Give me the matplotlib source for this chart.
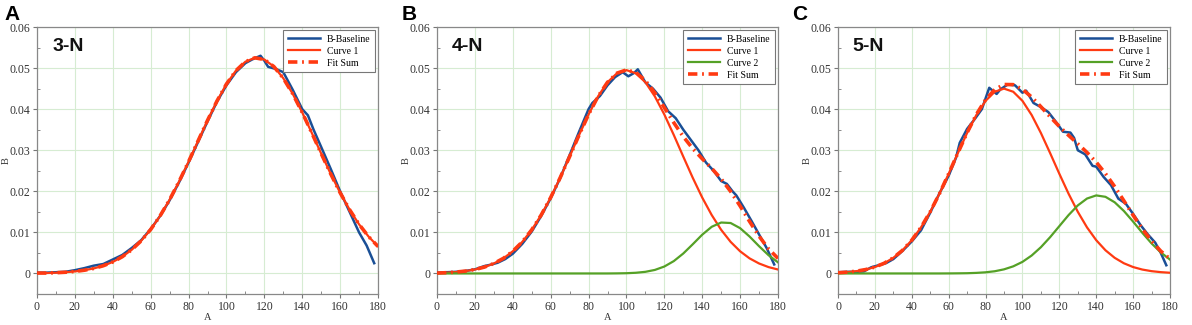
import numpy as np
import matplotlib
matplotlib.use("Agg")
import matplotlib.pyplot as plt
from matplotlib.ticker import MultipleLocator, FuncFormatter

# fitted curves sampled every 5 units of A
fit_x = list(range(0, 181, 5))

# ---- panel A (3-N) ----
a_base_x = [0, 5, 10, 15, 20, 25, 30, 35, 40, 45, 50, 55, 60, 65, 70, 75, 80, 85, 90, 95,
            100, 105, 110, 114, 118, 120, 122, 126, 130, 135, 140, 143, 146, 150, 155,
            160, 165, 170, 174, 178]
a_base_y = [0.0002, 0.0002, 0.0003, 0.0004, 0.0008, 0.0013, 0.0019, 0.0023, 0.0034, 0.0045,
            0.0062, 0.0081, 0.0108, 0.0140, 0.0178, 0.0222, 0.0270, 0.0320, 0.0370, 0.0418,
            0.0458, 0.0490, 0.0512, 0.0522, 0.0530, 0.0518, 0.0503, 0.0498, 0.0490, 0.0447,
            0.0400, 0.0385, 0.0350, 0.0308, 0.0255, 0.0200, 0.0150, 0.0100, 0.0068, 0.0025]
a_curve1 = [0.0001, 0.0001, 0.00018, 0.0003, 0.00049, 0.00079, 0.00123, 0.00188, 0.0028,
            0.00407, 0.00577, 0.00795, 0.0107, 0.01404, 0.01796, 0.02239, 0.02721, 0.03225,
            0.03726, 0.04198, 0.04611, 0.04938, 0.05155, 0.0525, 0.05208, 0.05038, 0.04753,
            0.04372, 0.0392, 0.03427, 0.02921, 0.02428, 0.01967, 0.01553, 0.01196, 0.00899,
            0.00658]
a_fitsum = a_curve1

# ---- panel B (4-N) ----
b_base_x = [0, 5, 10, 15, 20, 25, 28, 32, 36, 40, 45, 50, 55, 60, 65, 70, 75, 80, 82, 86,
            90, 94, 98, 101, 104, 106, 110, 114, 118, 122, 126, 130, 134, 138, 142, 146,
            150, 153, 156, 158, 162, 166, 170, 174, 178]
b_base_y = [0.0002, 0.0003, 0.0004, 0.0006, 0.0010, 0.0018, 0.0021, 0.0026, 0.0035, 0.0048,
            0.0072, 0.0102, 0.0140, 0.0183, 0.0232, 0.0288, 0.0345, 0.0400, 0.0415, 0.0432,
            0.0458, 0.0478, 0.0490, 0.0480, 0.0488, 0.0497, 0.0465, 0.0450, 0.0428, 0.0395,
            0.0378, 0.0350, 0.0325, 0.0300, 0.0270, 0.0250, 0.0225, 0.0218, 0.0200, 0.0190,
            0.0160, 0.0128, 0.0095, 0.0062, 0.0022]
b_curve1 = [0.0001, 0.00019, 0.00034, 0.00058, 0.00096, 0.00155, 0.00243, 0.00367, 0.0054,
            0.00769, 0.01062, 0.01423, 0.01848, 0.02329, 0.02845, 0.0337, 0.0387, 0.0431,
            0.04655, 0.04874, 0.0495, 0.04874, 0.04655, 0.0431, 0.0387, 0.0337, 0.02845,
            0.02329, 0.01848, 0.01423, 0.01062, 0.00769, 0.0054, 0.00367, 0.00243, 0.00155,
            0.00096]
b_curve2 = [0, 0, 0, 0, 0, 0, 0, 0, 0, 0, 0, 0, 0, 0, 0, 0, 0, 0, 0, 0.00002, 0.00006,
            0.00017, 0.0004, 0.00086, 0.00169, 0.00301, 0.00486, 0.00711, 0.00944, 0.01136,
            0.0124, 0.01228, 0.01103, 0.00899, 0.00664, 0.00445, 0.0027]
b_fitsum = [0.0001, 0.00019, 0.00034, 0.00058, 0.00096, 0.00155, 0.00243, 0.00367, 0.0054,
            0.00769, 0.01062, 0.01423, 0.01848, 0.02329, 0.02845, 0.0337, 0.0387, 0.0431,
            0.04655, 0.04876, 0.04956, 0.04891, 0.04695, 0.04396, 0.04039, 0.03671, 0.03331,
            0.0304, 0.02792, 0.02559, 0.02302, 0.01997, 0.01643, 0.01266, 0.00907, 0.006,
            0.00366]

# ---- panel C (5-N) ----
c_base_x = [0, 5, 10, 14, 18, 22, 26, 30, 35, 40, 45, 50, 55, 60, 64, 66, 70, 74, 78, 82,
            86, 88, 92, 96, 100, 102, 106, 110, 114, 118, 122, 126, 128, 130, 134, 138, 140,
            144, 148, 152, 156, 160, 164, 168, 172, 175, 178]
c_base_y = [0.0003, 0.0004, 0.0004, 0.0005, 0.0015, 0.0020, 0.0025, 0.0035, 0.0055, 0.0078,
            0.0105, 0.0148, 0.0195, 0.0238, 0.0282, 0.0318, 0.0352, 0.0375, 0.0400, 0.0452,
            0.0437, 0.0448, 0.0460, 0.0458, 0.0440, 0.0445, 0.0415, 0.0405, 0.0393, 0.0370,
            0.0345, 0.0343, 0.0330, 0.0300, 0.0290, 0.0262, 0.0260, 0.0235, 0.0215, 0.0182,
            0.0170, 0.0145, 0.0118, 0.0095, 0.0075, 0.0050, 0.0020]
c_curve1 = [0.00017, 0.00032, 0.00056, 0.00095, 0.00156, 0.00248, 0.00381, 0.00565, 0.0081,
            0.01122, 0.01502, 0.01942, 0.02427, 0.02931, 0.0342, 0.03857, 0.04202, 0.04424,
            0.045, 0.04424, 0.04202, 0.03857, 0.0342, 0.02931, 0.02427, 0.01942, 0.01502,
            0.01122, 0.0081, 0.00565, 0.00381, 0.00248, 0.00156, 0.00095, 0.00056, 0.00032,
            0.00017]
c_curve2 = [0, 0, 0, 0, 0, 0, 0, 0, 0, 0, 0, 0, 0.00001, 0.00003, 0.00006, 0.00014, 0.00028,
            0.00054, 0.001, 0.00173, 0.00282, 0.00437, 0.00639, 0.00883, 0.01152, 0.01421,
            0.01656, 0.01824, 0.019, 0.01866, 0.01733, 0.01521, 0.01262, 0.00989, 0.00732,
            0.00512, 0.00338]
c_fitsum = [0.00017, 0.00032, 0.00056, 0.00095, 0.00156, 0.00248, 0.00381, 0.00565, 0.0081,
            0.01122, 0.01502, 0.01942, 0.02428, 0.02934, 0.03426, 0.03871, 0.0423, 0.04478,
            0.046, 0.04597, 0.04484, 0.04294, 0.04059, 0.03814, 0.03579, 0.03363, 0.03158,
            0.02946, 0.0271, 0.02431, 0.02114, 0.01769, 0.01418, 0.01084, 0.00788, 0.00544,
            0.00355]

panels = [
    ("A", "3-N", a_base_x, a_base_y, a_curve1, None, a_fitsum),
    ("B", "4-N", b_base_x, b_base_y, b_curve1, b_curve2, b_fitsum),
    ("C", "5-N", c_base_x, c_base_y, c_curve1, c_curve2, c_fitsum),
]

BLUE = "#1a4f96"
RED = "#ff3a12"
GREEN = "#55a126"
SERIF = "Liberation Serif"

fig = plt.figure(figsize=(11.92, 3.25), dpi=100)
rects = [
    [37 / 1192, 31 / 325, 341 / 1192, 267 / 325],
    [437 / 1192, 31 / 325, 341 / 1192, 267 / 325],
    [838 / 1192, 31 / 325, 332 / 1192, 267 / 325],
]
letter_x = [4, 402, 792]


def yfmt(v, pos):
    if abs(v) < 1e-9:
        return "0"
    return f"{v:.2f}"


for (letter, name, bx, by, c1, c2, fs), rect, lx in zip(panels, rects, letter_x):
    ax = fig.add_axes(rect)
    ax.plot(bx, by, color=BLUE, lw=1.8, label="B-Baseline", zorder=3)
    ax.plot(fit_x, c1, color=RED, lw=1.6, label="Curve 1", zorder=4)
    if c2 is not None:
        ax.plot(fit_x, c2, color=GREEN, lw=1.6, label="Curve 2", zorder=4)
    ax.plot(fit_x, fs, color=RED, lw=2.6, ls=(0, (2.6, 1.3, 0.5, 1.3)), label="Fit Sum", zorder=5)

    ax.set_xlim(0, 180)
    ax.set_ylim(-0.005, 0.06)
    ax.xaxis.set_major_locator(MultipleLocator(20))
    ax.xaxis.set_minor_locator(MultipleLocator(10))
    ax.yaxis.set_major_locator(MultipleLocator(0.01))
    ax.yaxis.set_minor_locator(MultipleLocator(0.005))
    ax.yaxis.set_major_formatter(FuncFormatter(yfmt))
    ax.grid(True, which="major", color="#d6ecd2", lw=0.8, zorder=0)
    ax.tick_params(which="both", color="#777777", labelsize=8.5, pad=2)
    ax.tick_params(which="major", direction="out", length=3)
    ax.tick_params(which="minor", direction="in", length=2)
    for lab in ax.get_xticklabels() + ax.get_yticklabels():
        lab.set_fontfamily(SERIF)
        lab.set_color("#333333")
    for sp in ax.spines.values():
        sp.set_color("#888888")
        sp.set_linewidth(0.9)
    ax.set_xlabel("A", fontfamily=SERIF, fontsize=7.5, labelpad=0, color="#333333")
    ax.set_ylabel("B", fontfamily=SERIF, fontsize=7.5, color="#333333")
    ax.yaxis.set_label_coords(-26 / (rect[2] * 1192), 0.5)

    ax.text(8, 0.0553, name, fontfamily="Liberation Sans", fontweight="bold",
            fontsize=14, va="center", ha="left", color="#111111")

    leg = ax.legend(loc="upper right", prop={"family": SERIF, "size": 7},
                    handlelength=3.3, handletextpad=0.7, borderpad=0.45,
                    labelspacing=0.3, fancybox=False, framealpha=1,
                    borderaxespad=0.35)
    leg.get_frame().set_edgecolor("#777777")
    leg.get_frame().set_linewidth(0.8)

    fig.text(lx / 1192, 1 - 14 / 325, letter, fontfamily="Liberation Sans",
             fontweight="bold", fontsize=15, va="center", ha="left")

fig.savefig("out.png", dpi=100)
